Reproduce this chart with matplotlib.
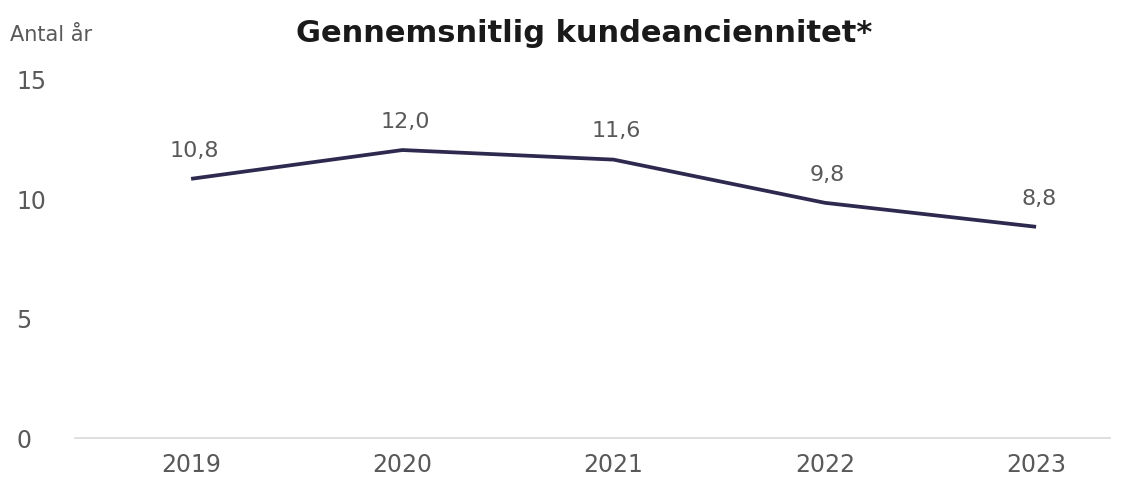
import matplotlib.pyplot as plt

years = ["2019", "2020", "2021", "2022", "2023"]
values = [10.8, 12.0, 11.6, 9.8, 8.8]
value_labels = ["10,8", "12,0", "11,6", "9,8", "8,8"]
y_ticks = [0, 5, 10, 15]

TEXT_COLOR = "#595959"
LINE_COLOR = "#2e2a4f"


def main():
    fig = plt.figure(figsize=(11.35, 4.85), dpi=100)
    ax = fig.add_axes([0.066, 0.095, 0.912, 0.742])

    x = list(range(len(years)))
    ax.plot(x, values, color=LINE_COLOR, linewidth=2.7, solid_capstyle="butt")

    # data labels above each point
    for xi, v, lab in zip(x, values, value_labels):
        ax.annotate(lab, (xi, v), xytext=(2, 21), textcoords="offset points",
                    ha="center", va="center", fontsize=16, color=TEXT_COLOR)

    ax.set_xlim(-0.55, 4.35)
    ax.set_ylim(0, 15)
    ax.set_xticks(x)
    ax.set_xticklabels(years)
    ax.set_yticks(y_ticks)
    ax.tick_params(axis="both", length=0, labelsize=17, labelcolor=TEXT_COLOR)
    ax.tick_params(axis="x", pad=10)
    ax.tick_params(axis="y", pad=42)
    for lab in ax.get_yticklabels():
        lab.set_horizontalalignment("left")

    for side in ["top", "right", "left"]:
        ax.spines[side].set_visible(False)
    ax.spines["bottom"].set_color("#d9d9d9")
    ax.spines["bottom"].set_linewidth(1.2)

    fig.text(0.009, 0.928, "Antal år", fontsize=15, color=TEXT_COLOR,
             ha="left", va="center")
    fig.text(0.515, 0.93, "Gennemsnitlig kundeanciennitet*", fontsize=22,
             fontweight="bold", color="#1a1a1a", ha="center", va="center")

    fig.savefig("out.png", dpi=100)


if __name__ == '__main__':
    main()
